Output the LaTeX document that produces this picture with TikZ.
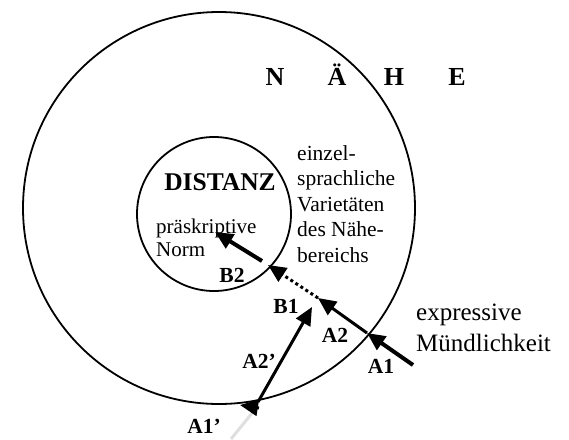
\documentclass[tikz,border=0pt]{standalone}
\usepackage{fontspec}
\setmainfont{Liberation Serif}
\usetikzlibrary{arrows.meta}

\begin{document}
\begin{tikzpicture}[x=1pt, y=-1pt,
    ring/.style={line width=1.8pt},
    big/.style={font=\fontsize{26}{30}\selectfont\bfseries, inner sep=0pt, anchor=base},
    lbl/.style={font=\fontsize{21.5}{24}\selectfont\bfseries, inner sep=0pt, anchor=base},
    txt/.style={font=\fontsize{21.5}{25.5}\selectfont, align=left, inner sep=0pt, anchor=west},
    head/.style={-{Triangle[length=18pt, width=16pt]}},
    shaft/.style={line width=3pt}]
    \useasboundingbox (0,0) rectangle (569,439);
    % the two areas
    \coordinate (cn) at (219,208);
    \coordinate (cd) at (214,214);
    \draw[ring] (cn) circle[radius=196pt];
    \draw[ring] (cd) circle[radius=77pt];
    % area names
    \node[big] (n) at (275,85) {N};
    \node[big] (ae) at (337,85) {Ä};
    \node[big] (h) at (394,85) {H};
    \node[big] (e) at (457,85) {E};
    \node[big, font=\fontsize{25.5}{30}\selectfont\bfseries] (dist) at (220,190) {DISTANZ};
    \node[txt, font=\fontsize{21}{22.5}\selectfont] (norm) at (156,238) {präskriptive\\Norm};
    \node[txt] (var) at (297,204) {einzel-\\sprachliche\\Varietäten\\des Nähe-\\bereichs};
    \node[txt, font=\fontsize{25}{31}\selectfont] (expr) at (416,328) {expressive\\Mündlichkeit};
    % points on the way
    \coordinate (a1o) at (413,365);
    \coordinate (a1) at (367,333);
    \coordinate (a2) at (318,298);
    \coordinate (b2) at (268,265);
    \coordinate (b2o) at (262,261);
    \coordinate (nrm) at (215,232);
    \coordinate (b1) at (312,307);
    \coordinate (a2s) at (258,402);
    \coordinate (a1p) at (240,405);
    \coordinate (a1pb) at (259,408);
    \coordinate (g1) at (253,412);
    \coordinate (g2) at (231,439);
    \draw[gray!25, line width=3pt] (g1) -- (g2);
    % arrows
    \draw[head, line width=4pt] (a1o) -- (a1);
    \draw[head, shaft] (a1) -- (a2);
    \draw[head, shaft, dash pattern=on 3pt off 3pt] (a2) -- (b2);
    \draw[head, line width=4pt] (b2o) -- (nrm);
    \draw[head, shaft] (a2s) -- (b1);
    \draw[head, shaft] (a1pb) -- (a1p);
    % labels
    \node[lbl] (lb2) at (232,282) {B2};
    \node[lbl] (lb1) at (286,313) {B1};
    \node[lbl] (la2) at (335,342) {A2};
    \node[lbl] (la1) at (381,373) {A1};
    \node[lbl] (la2p) at (259,368) {A2’};
    \node[lbl] (la1p) at (204,433) {A1’};
\end{tikzpicture}
\end{document}
